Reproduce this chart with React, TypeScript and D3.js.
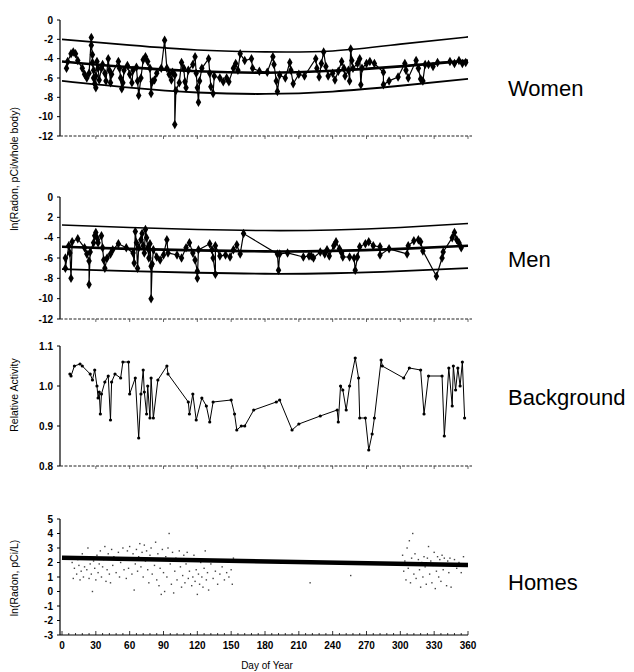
import React from 'react';
import * as d3 from 'd3';

// fitted envelopes (day, value)
const fitDays = [0, 60, 120, 180, 240, 300, 360];
const womenUpper = [-2.0, -2.6, -3.1, -3.3, -3.2, -2.5, -1.75];
const womenMid = [-4.3, -4.9, -5.3, -5.45, -5.25, -4.8, -4.2];
const womenLower = [-6.3, -7.0, -7.5, -7.65, -7.4, -6.8, -6.1];
const menUpper = [-2.75, -3.0, -3.2, -3.3, -3.25, -3.0, -2.6];
const menMid = [-4.9, -5.1, -5.25, -5.35, -5.3, -5.1, -4.8];
const menLower = [-7.1, -7.3, -7.45, -7.55, -7.5, -7.3, -7.0];
const homesFitDays = [0, 360];
const homesFit = [2.33, 1.83];

const women: [number, number][] = [
  [4, -5.0], [5, -4.3], [8, -3.5], [10, -3.3], [12, -3.5], [14, -4.2], [18, -5.0], [20, -5.6], [22, -6.0], [24, -5.5],
  [26, -1.8], [26, -2.6], [27, -3.6], [27, -4.4], [28, -5.2], [28, -6.0], [29, -6.6], [30, -7.0], [30, -5.8], [31, -4.3],
  [32, -5.0], [33, -6.2], [35, -5.0], [36, -4.6], [38, -5.5], [39, -6.3], [41, -4.0], [42, -5.2], [43, -6.5], [44, -5.6],
  [50, -4.3], [51, -5.0], [52, -6.0], [53, -7.1], [54, -6.5], [55, -5.2], [58, -4.7], [60, -5.6], [62, -6.5], [63, -5.2],
  [66, -4.9], [67, -6.3], [68, -7.8], [70, -6.0], [72, -4.1], [74, -3.8], [76, -4.3], [78, -5.0], [79, -7.6], [80, -6.4],
  [82, -6.2], [84, -5.5], [88, -5.0], [91, -2.1], [93, -5.0], [95, -5.6], [97, -6.2], [98, -5.4], [100, -5.7], [100, -10.8],
  [101, -7.3], [104, -6.5], [106, -4.4], [108, -5.0], [109, -6.4], [110, -7.0], [112, -5.2], [116, -4.6], [118, -3.8], [119, -5.5],
  [120, -7.0], [121, -8.5], [122, -6.3], [124, -5.0], [130, -4.0], [131, -5.5], [132, -6.9], [134, -7.6], [135, -5.8], [140, -6.0],
  [143, -6.4], [146, -6.0], [148, -6.4], [152, -5.0], [154, -4.5], [156, -5.2], [158, -3.5], [162, -4.2], [168, -4.0], [169, -5.0],
  [175, -5.3], [182, -5.4], [187, -3.8], [188, -4.6], [190, -6.3], [191, -7.4], [193, -5.7], [198, -6.0], [202, -4.4], [203, -5.2],
  [205, -6.6], [210, -5.6], [215, -5.8], [225, -4.0], [226, -5.0], [228, -5.9], [230, -4.5], [232, -3.3], [234, -4.8], [236, -5.8],
  [240, -5.5], [242, -6.2], [245, -5.3], [248, -4.3], [250, -5.0], [251, -5.8], [254, -5.2], [255, -6.3], [256, -3.0], [257, -4.2],
  [258, -5.0], [262, -4.5], [264, -4.0], [265, -6.7], [266, -5.0], [270, -4.5], [273, -4.3], [277, -4.5], [285, -5.4], [285, -6.7],
  [290, -6.3], [298, -5.9], [304, -4.5], [305, -5.2], [307, -6.0], [314, -4.2], [316, -5.0], [318, -6.1], [320, -6.3], [322, -4.6],
  [325, -4.6], [329, -4.8], [333, -4.4], [344, -4.3], [348, -4.5], [352, -4.2], [355, -4.5], [358, -4.4],
];

const men: [number, number][] = [
  [3, -6.0], [3, -7.0], [6, -4.8], [7, -5.5], [8, -8.0], [9, -4.4], [14, -4.1], [20, -5.0], [22, -5.6], [24, -6.3],
  [24, -8.6], [25, -5.4], [28, -4.5], [29, -3.8], [30, -3.5], [31, -4.0], [32, -4.5], [35, -3.8], [36, -5.0], [37, -6.2],
  [38, -7.0], [40, -6.0], [43, -5.6], [45, -5.2], [50, -4.6], [57, -5.0], [63, -5.5], [64, -6.5], [65, -3.4], [66, -4.5],
  [67, -7.0], [68, -5.0], [70, -4.2], [71, -3.6], [72, -4.8], [73, -5.5], [74, -3.2], [75, -4.0], [76, -5.0], [77, -6.0],
  [78, -4.6], [79, -6.8], [79, -10.0], [80, -6.6], [81, -5.2], [84, -5.9], [87, -6.2], [90, -5.7], [93, -4.2], [94, -5.5],
  [102, -5.7], [106, -6.0], [110, -5.0], [113, -4.5], [116, -5.5], [118, -6.2], [120, -7.3], [120, -8.0], [121, -5.2], [131, -4.6],
  [133, -5.2], [134, -6.0], [136, -7.6], [136, -4.8], [140, -5.8], [145, -5.7], [149, -5.9], [152, -5.2], [155, -4.7], [158, -5.6],
  [161, -3.6], [191, -5.6], [192, -7.2], [193, -5.6], [200, -5.5], [214, -5.9], [219, -5.8], [221, -5.8], [223, -6.0], [229, -5.4],
  [233, -5.6], [235, -5.2], [237, -5.8], [241, -4.8], [243, -4.4], [246, -5.1], [248, -5.5], [249, -5.9], [255, -5.9], [259, -6.0],
  [260, -7.2], [262, -5.9], [264, -4.9], [269, -4.6], [272, -4.4], [276, -4.8], [282, -4.9], [282, -5.7], [290, -5.1], [306, -5.6],
  [307, -4.8], [312, -4.3], [316, -4.2], [318, -4.4], [320, -5.3], [332, -7.8], [337, -6.0], [338, -5.4], [346, -4.0], [348, -3.5],
  [350, -4.2], [352, -4.5], [354, -5.0],
];

const background: [number, number][] = [
  [7, 1.03], [8, 1.025], [11, 1.05], [16, 1.055], [18, 1.05], [25, 1.03], [27, 1.015], [29, 1.04], [31, 1.0], [32, 0.97],
  [33, 0.985], [34, 0.93], [35, 0.98], [38, 1.01], [41, 1.025], [43, 0.915], [44, 1.01], [47, 1.03], [52, 1.02], [54, 1.06],
  [59, 1.06], [60, 0.98], [65, 1.02], [68, 0.87], [70, 0.98], [72, 1.04], [73, 0.985], [75, 0.93], [76, 1.0], [78, 0.92],
  [79, 1.02], [81, 0.92], [85, 1.015], [93, 1.05], [94, 1.03], [112, 0.96], [113, 0.93], [116, 0.98], [119, 0.915], [124, 0.97],
  [128, 0.95], [131, 0.91], [134, 0.96], [150, 0.965], [153, 0.93], [155, 0.89], [159, 0.9], [162, 0.9], [170, 0.94], [190, 0.96],
  [193, 0.965], [204, 0.89], [210, 0.905], [229, 0.925], [244, 0.94], [245, 0.91], [247, 1.0], [249, 0.99], [252, 0.94], [255, 1.0],
  [260, 1.07], [263, 1.02], [264, 0.92], [269, 0.92], [272, 0.84], [275, 0.88], [277, 0.92], [283, 1.065], [284, 1.05], [303, 1.02],
  [308, 1.045], [318, 1.04], [321, 0.93], [325, 1.025], [337, 1.025], [339, 0.875], [343, 1.045], [346, 0.95], [347, 1.05], [349, 0.99],
  [351, 1.045], [353, 1.0], [355, 1.06], [357, 0.92],
];

const homes: [number, number][] = [
  [9, 2.0], [10, 0.9], [11, 1.6], [12, 2.4], [13, 1.2], [14, 2.2], [15, 1.8], [16, 0.8], [17, 1.4], [18, 2.6], [19, 1.0], [20, 1.7],
  [21, 2.3], [22, 1.5], [23, 3.0], [24, 0.9], [25, 1.9], [26, 1.2], [27, 0.0], [28, 2.1], [29, 1.6], [30, 0.8], [31, 2.5], [32, 1.3],
  [33, 1.9], [34, 2.8], [35, 1.0], [36, 1.7], [37, 2.2], [38, 3.1], [39, 0.7], [40, 1.5], [41, 2.6], [42, 1.2], [43, 0.6], [44, 2.9],
  [45, 1.8], [46, 2.4], [48, 1.3], [50, 2.7], [51, 1.0], [52, 2.0], [54, 3.0], [55, 1.5], [56, 2.3], [57, 0.9], [58, 2.8], [59, 1.6],
  [60, 3.1], [61, 2.2], [62, 1.2], [63, 2.6], [64, 0.1], [65, 1.9], [66, 2.9], [67, 1.4], [68, 2.4], [69, 3.3], [70, 1.7], [71, 2.7],
  [72, 1.0], [73, 3.2], [74, 2.1], [75, 2.8], [76, 1.5], [77, 0.6], [78, 2.5], [79, 3.0], [80, 1.2], [81, 2.2], [82, 1.8], [83, 3.4],
  [84, 0.8], [85, 2.6], [86, 0.4], [87, 1.6], [88, -0.2], [89, 2.9], [90, 1.3], [91, 0.0], [92, 2.4], [93, 1.0], [94, 3.0], [95, 4.0],
  [96, 1.9], [97, 0.5], [98, 2.7], [99, -0.1], [100, 1.4], [101, 2.3], [102, 0.8], [104, 2.8], [105, 1.7], [106, 0.3], [107, 1.1],
  [108, 2.5], [109, 0.6], [110, 1.9], [111, 2.7], [112, 0.9], [113, 1.4], [114, 2.2], [115, 0.4], [116, 1.0], [117, 2.5], [118, 0.7],
  [119, 1.5], [120, -0.2], [121, 1.2], [122, 0.5], [123, 2.0], [124, 1.0], [125, 0.3], [126, 1.6], [127, 2.8], [128, 0.8], [129, 1.3],
  [130, 0.1], [132, 1.9], [134, 0.9], [136, 1.4], [138, 0.5], [140, 1.2], [142, 1.7], [144, 0.8], [146, 1.3], [148, 1.0], [150, 1.5],
  [151, 0.5], [152, 2.3], [220, 0.6], [256, 1.1],
  [302, 2.5], [303, 1.4], [304, 2.1], [305, 0.8], [306, 3.0], [307, 1.6], [308, 3.5], [309, 0.6], [310, 2.3], [311, 4.0], [312, 1.2],
  [313, 2.6], [314, 0.9], [316, 2.2], [317, 1.5], [318, 0.3], [319, 2.0], [320, 1.0], [321, 2.4], [322, 1.7], [323, 0.5], [324, 2.3],
  [325, 3.1], [326, 1.2], [327, 2.1], [328, 0.6], [329, 1.8], [330, 2.7], [331, 0.2], [332, 1.4], [333, 2.4], [334, 1.0], [335, 2.2],
  [336, 0.7], [337, 2.5], [338, 1.5], [339, 2.3], [340, 1.9], [341, 0.4], [342, 2.1], [343, 1.3], [344, 2.3], [345, 0.3], [346, 1.8],
  [348, 2.2], [350, 1.6], [352, 2.0], [354, 1.3], [356, 2.4], [358, 1.9],
];

const radonTicks = [0, -2, -4, -6, -8, -10, -12];
const radonTickLabels = ['0', '-2', '-4', '-6', '-8', '-10', '-12'];
const menTickLabels = ['0', '2', '-4', '-6', '-8', '-10', '-12'];
const activityTicks = [1.1, 1.0, 0.9, 0.8];
const homesTicks = [5, 4, 3, 2, 1, 0, -1, -2, -3];
const dayTicks = d3.range(0, 361, 30);

const font = 'Arial, "Liberation Sans", Helvetica, sans-serif';
const x = d3.scaleLinear().domain([0, 360]).range([62, 468]);
const axisX = 60;

const panels = {
  women: d3.scaleLinear().domain([-12, 0]).range([136, 20]),
  men: d3.scaleLinear().domain([-12, 0]).range([319, 197]),
  bg: d3.scaleLinear().domain([0.8, 1.1]).range([466, 346]),
  homes: d3.scaleLinear().domain([-3, 5]).range([635, 519]),
};

const diamond = d3.symbol().type(d3.symbolDiamond).size(26)();

function YAxis({ y, ticks, labels }: { y: d3.ScaleLinear<number, number>; ticks: number[]; labels: string[] }) {
  const [lo, hi] = y.range();
  return (
    <g>
      <line x1={axisX} x2={axisX} y1={lo} y2={hi} stroke="#000" strokeWidth={1.2} />
      {ticks.map((t, i) => (
        <g key={t}>
          <line x1={axisX - 3} x2={axisX} y1={y(t)} y2={y(t)} stroke="#000" />
          <text x={axisX - 7} y={y(t)} dy="0.35em" textAnchor="end" fontSize={10} fontWeight="bold" fontFamily={font}>
            {labels[i]}
          </text>
        </g>
      ))}
    </g>
  );
}

function DottedXAxis({ yPos }: { yPos: number }) {
  return (
    <g>
      <line x1={axisX} x2={x(360) + 4} y1={yPos} y2={yPos} stroke="#222" strokeWidth={1} strokeDasharray="3,1.5" />
      {dayTicks.slice(1).map((d) => (
        <line key={d} x1={x(d)} x2={x(d)} y1={yPos} y2={yPos + 3} stroke="#444" strokeWidth={0.8} />
      ))}
    </g>
  );
}

function FitCurves({ y, upper, mid, lower }: { y: d3.ScaleLinear<number, number>; upper: number[]; mid: number[]; lower: number[] }) {
  const line = d3.line<number>().x((_, i) => x(fitDays[i])).y((v) => y(v)).curve(d3.curveNatural);
  return (
    <g fill="none" stroke="#000">
      <path d={line(upper) || ''} strokeWidth={1.6} />
      <path d={line(mid) || ''} strokeWidth={2.6} />
      <path d={line(lower) || ''} strokeWidth={1.8} />
    </g>
  );
}

function Series({ y, data }: { y: d3.ScaleLinear<number, number>; data: [number, number][] }) {
  const line = d3.line<[number, number]>().x((d) => x(d[0])).y((d) => y(d[1]));
  return (
    <g>
      <path d={line(data) || ''} fill="none" stroke="#000" strokeWidth={1.2} />
      {data.map((d, i) => (
        <path key={i} d={diamond || ''} transform={`translate(${x(d[0])},${y(d[1])})`} fill="#000" />
      ))}
    </g>
  );
}

export default function App() {
  const bgLine = d3.line<[number, number]>().x((d) => x(d[0])).y((d) => panels.bg(d[1]));
  const homesLine = d3.line<number>().x((_, i) => x(homesFitDays[i])).y((v) => panels.homes(v));
  const panelLabel = (t: string, yPos: number) => (
    <text x={508} y={yPos} fontSize={22} fontFamily={font} fill="#000">{t}</text>
  );

  return (
    <svg width={634} height={672} style={{ position: 'absolute', left: 0, top: 0, background: '#fff' }}>
      {/* Women */}
      <YAxis y={panels.women} ticks={radonTicks} labels={radonTickLabels} />
      <DottedXAxis yPos={panels.women(-12)} />
      <FitCurves y={panels.women} upper={womenUpper} mid={womenMid} lower={womenLower} />
      <Series y={panels.women} data={women} />
      {panelLabel('Women', 96)}

      {/* Men */}
      <YAxis y={panels.men} ticks={radonTicks} labels={menTickLabels} />
      <DottedXAxis yPos={panels.men(-12)} />
      <FitCurves y={panels.men} upper={menUpper} mid={menMid} lower={menLower} />
      <Series y={panels.men} data={men} />
      {panelLabel('Men', 267)}

      <text transform="translate(18,169) rotate(-90)" textAnchor="middle" fontSize={10.5} fontFamily={font}>
        ln(Radon, pCi/whole body)
      </text>

      {/* Background */}
      <YAxis y={panels.bg} ticks={activityTicks} labels={['1.1', '1.0', '0.9', '0.8']} />
      <DottedXAxis yPos={panels.bg(0.8)} />
      <path d={bgLine(background) || ''} fill="none" stroke="#000" strokeWidth={1} />
      {background.map((d, i) => (
        <circle key={i} cx={x(d[0])} cy={panels.bg(d[1])} r={1.6} fill="#000" />
      ))}
      {panelLabel('Background', 405)}
      <text transform="translate(18,395) rotate(-90)" textAnchor="middle" fontSize={10.5} fontFamily={font}>
        Relative Activity
      </text>

      {/* Homes */}
      <YAxis y={panels.homes} ticks={homesTicks} labels={homesTicks.map(String)} />
      <line x1={axisX} x2={x(360)} y1={panels.homes(-3)} y2={panels.homes(-3)} stroke="#000" strokeWidth={1.2} />
      {d3.range(0, 361, 6).map((d) => (
        <line key={d} x1={x(d)} x2={x(d)} y1={panels.homes(-3)} y2={panels.homes(-3) - (d % 30 === 0 ? 4 : 2)} stroke="#000" strokeWidth={0.8} />
      ))}
      {dayTicks.map((d) => (
        <text key={d} x={x(d)} y={649} textAnchor="middle" fontSize={10} fontWeight="bold" fontFamily={font}>{d}</text>
      ))}
      {homes.map((d, i) => (
        <rect key={i} x={x(d[0]) - 0.7} y={panels.homes(d[1]) - 0.7} width={1.4} height={1.4} fill="#444" />
      ))}
      <path d={homesLine(homesFit) || ''} fill="none" stroke="#000" strokeWidth={4.5} />
      {panelLabel('Homes', 590)}
      <text transform="translate(18,578) rotate(-90)" textAnchor="middle" fontSize={10.5} fontFamily={font}>
        ln(Radon, pCi/L)
      </text>
      <text x={267} y={669} textAnchor="middle" fontSize={10} fontFamily={font}>Day of Year</text>
    </svg>
  );
}
